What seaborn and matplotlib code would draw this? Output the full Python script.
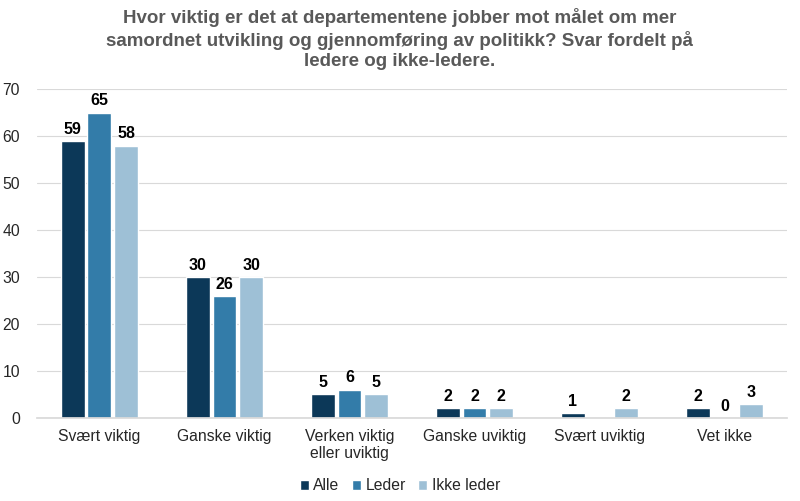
import matplotlib
matplotlib.use("Agg")
import matplotlib.pyplot as plt
import seaborn as sns
import pandas as pd
import numpy as np

categories = ["Svært viktig", "Ganske viktig", "Verken viktig\neller uviktig",
              "Ganske uviktig", "Svært uviktig", "Vet ikke"]
series_names = ["Alle", "Leder", "Ikke leder"]
alle = [59, 30, 5, 2, 1, 2]
leder = [65, 26, 6, 2, np.nan, 0]
ikke_leder = [58, 30, 5, 2, 2, 3]
colors = ["#0c3858", "#337ca9", "#9ec0d6"]
title = ("Hvor viktig er det at departementene jobber mot målet om mer\n"
         "samordnet utvikling og gjennomføring av politikk? Svar fordelt på\n"
         "ledere og ikke-ledere.")

rows = []
for name, vals in zip(series_names, [alle, leder, ikke_leder]):
    for c, v in zip(categories, vals):
        rows.append({"Kategori": c, "Gruppe": name, "Verdi": v})
df = pd.DataFrame(rows)

sns.set_theme(style="white")
plt.rcParams["font.family"] = ["Liberation Sans", "DejaVu Sans"]

fig = plt.figure(figsize=(8, 5.01), dpi=100)
ax = fig.add_axes([0.046, 0.166, 0.938, 0.656])

sns.barplot(data=df, x="Kategori", y="Verdi", hue="Gruppe", order=categories,
            hue_order=series_names, palette=colors, width=0.64, ax=ax,
            errorbar=None, saturation=1, legend=True)

# slightly narrower bars with gaps
for p in ax.patches:
    w = p.get_width()
    if w > 0:
        nw = w * 0.89
        p.set_x(p.get_x() + (w - nw) / 2)
        p.set_width(nw)

for cont in ax.containers:
    labels = []
    for v in cont.datavalues:
        labels.append("" if np.isnan(v) else f"{v:.0f}")
    ax.bar_label(cont, labels=labels, padding=3, fontsize=11.5,
                 fontweight="bold", color="black")

ax.set_ylim(0, 70)
ax.set_yticks(range(0, 71, 10))
ax.set_xlim(-0.5, 5.5)
ax.yaxis.grid(True, color="#d9d9d9", linewidth=0.8)
ax.set_axisbelow(True)
for s in ["top", "right", "left"]:
    ax.spines[s].set_visible(False)
ax.spines["bottom"].set_color("#d9d9d9")
ax.tick_params(axis="both", length=0, labelsize=11.3, colors="#262626")
ax.tick_params(axis="x", pad=8)
ax.tick_params(axis="y", pad=12)
ax.set_xlabel("")
ax.set_ylabel("")

fig.text(0.5, 0.984, title, ha="center", va="top", fontsize=13.5,
         fontweight="bold", color="#595959", linespacing=1.25)

handles, labs = ax.get_legend_handles_labels()
ax.legend(handles, labs, loc="center", bbox_to_anchor=(0.5, 0.03),
          bbox_transform=fig.transFigure, ncol=3, frameon=False,
          fontsize=11.3, handlelength=0.55, handleheight=0.55,
          handletextpad=0.3, columnspacing=0.8)

fig.savefig("out.png", dpi=100)
